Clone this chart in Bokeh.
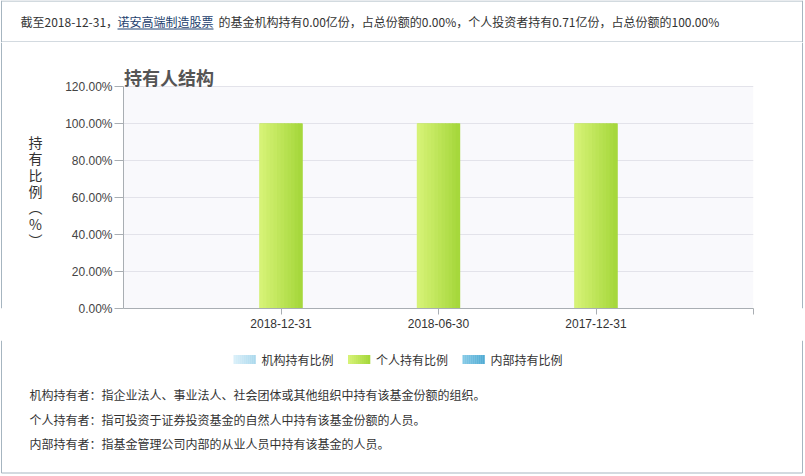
from bokeh.plotting import figure
from bokeh.models import Range1d, FixedTicker, CustomJSTickFormatter, ColumnDataSource
from bokeh.layouts import column, row
from bokeh.transform import dodge
from bokeh.core.properties import value
from bokeh.embed import file_html
from bokeh.resources import INLINE

# ---------------- data ----------------
fund_name = "诺安高端制造股票"
report_date = "2018-12-31"
categories = ["2018-12-31", "2018-06-30", "2017-12-31"]
inst_pct = [0.00, 0.00, 0.00]
indiv_pct = [100.00, 100.00, 100.00]
inner_pct = [0.00, 0.00, 0.00]
series_names = ["机构持有比例", "个人持有比例", "内部持有比例"]
# (light, dark) ends of each series' horizontal gradient
series_grad = [("#d9eff9", "#acd9ed"), ("#d6f276", "#a6d83c"), ("#84c9e6", "#52acd4")]
y_ticks = [0, 20, 40, 60, 80, 100, 120]
inst_shares = 0.00        # 亿份
inst_share_pct = 0.00     # %
indiv_shares = 0.71       # 亿份
indiv_share_pct = 100.00  # %
chart_title = "持有人结构"
y_axis_title = "持有比例（%）"
notes = [
    "机构持有者：指企业法人、事业法人、社会团体或其他组织中持有该基金份额的组织。",
    "个人持有者：指可投资于证券投资基金的自然人中持有该基金份额的人员。",
    "内部持有者：指基金管理公司内部的从业人员中持有该基金的人员。",
]

CJK = "Noto Sans CJK SC"
LAT = "Liberation Sans"
BC = "#a6b5c0"          # frame border colour
TXT = "#333333"

W, H = 804, 475
HEAD_H = 42             # header band: y 0..42
BAND_B = 340            # chart band: y 42..340
LEFT_W, RIGHT_X = 55, 789
PL, PR, PT, PB = 123, 753, 86, 308   # plot area in page pixels
n_slots = len(categories) + 1
Y_MAX = y_ticks[-1]


def hex2rgb(h):
    return tuple(int(h[i:i + 2], 16) for i in (1, 3, 5))


def ramp(c_light, c_dark, n):
    a, b = hex2rgb(c_light), hex2rgb(c_dark)
    out = []
    for k in range(n):
        t = k / (n - 1)
        out.append("#%02x%02x%02x" % tuple(int(round(u + (v - u) * t)) for u, v in zip(a, b)))
    return out


def band(x0, y0, w, h):
    """A figure whose frame fills the whole canvas; data coords == page pixels."""
    f = figure(width=w, height=h, x_range=Range1d(x0, x0 + w), y_range=Range1d(y0 + h, y0),
               x_axis_type=None, y_axis_type=None, output_backend="svg",
               toolbar_location=None, min_border=0, min_border_left=0, min_border_right=0,
               min_border_top=0, min_border_bottom=0)
    f.outline_line_color = None
    f.background_fill_color = "white"
    f.border_fill_color = "white"
    return f


# ---------------- header ----------------
head = band(0, 0, W, HEAD_H)
head1 = f"截至{report_date}，"
head3 = (f"的基金机构持有{inst_shares:.2f}亿份，占总份额的{inst_share_pct:.2f}%，"
         f"个人投资者持有{indiv_shares:.2f}亿份，占总份额的{indiv_share_pct:.2f}%")
head.text(x=[20, 218], y=[20.5, 20.5], text=[head1, head3], text_font=value(CJK),
          text_font_size=value("12px"), text_color=TXT, text_baseline="middle", text_align="left")
head.text(x=[117], y=[20.5], text=[fund_name], text_font=value(CJK),
          text_font_size=value("12px"), text_color="#1d3f6e", text_baseline="middle",
          text_align="left")
head.segment(x0=[117], y0=[28.5], x1=[213], y1=[28.5], line_color="#1d3f6e", line_width=1)
head.segment(x0=[1, 1, 1, 802], y0=[0.5, 41.5, 0, 0], x1=[802, 802, 1, 802],
             y1=[0.5, 41.5, HEAD_H, HEAD_H], line_color=BC, line_width=1)

# ---------------- left strip (y axis title, upright characters) ----------------
left = band(0, HEAD_H, LEFT_W, BAND_B - HEAD_H)
vert = {"（": "︵", "）": "︶", "(": "︵", ")": "︶"}
ytitle = "\n".join(vert.get(ch, ch) for ch in y_axis_title)
left.text(x=[35], y=[142], text=[ytitle], text_font=value(CJK), text_font_size=value("14px"),
          text_color=TXT, text_align="center", text_baseline="top", text_line_height=0.82)
left.segment(x0=[1], y0=[HEAD_H], x1=[1], y1=[BAND_B], line_color=BC, line_width=1)

# ---------------- right strip ----------------
right = band(RIGHT_X, HEAD_H, W - RIGHT_X, BAND_B - HEAD_H)
right.segment(x0=[802], y0=[HEAD_H], x1=[802], y1=[BAND_B], line_color=BC, line_width=1)

# ---------------- chart ----------------
src = ColumnDataSource(dict(
    x=list(range(1, len(categories) + 1)),
    cat=categories,
    inst=inst_pct,
    indiv=indiv_pct,
    inner=inner_pct,
))

y_top = (PB - HEAD_H) / (PB - PT) * Y_MAX      # frame reaches up to the header line
p = figure(width=RIGHT_X - LEFT_W, height=BAND_B - HEAD_H,
           x_range=Range1d(0, n_slots), y_range=Range1d(0, y_top),
           output_backend="svg", toolbar_location=None,
           min_border_left=PL - LEFT_W, min_border_right=RIGHT_X - PR,
           min_border_top=0, min_border_bottom=BAND_B - PB)
p.background_fill_color = "white"
p.border_fill_color = "white"
p.outline_line_color = None


def dx(px):
    return (px - PL) / (PR - PL) * n_slots


def dy(py):
    return (PB - py) / (PB - PT) * Y_MAX


# plot-area background (only up to the top tick)
p.quad(left=[0], right=[n_slots], bottom=[0], top=[Y_MAX], fill_color="#f9f9fc",
       line_color=None, level="image")

p.xgrid.visible = False
p.ygrid.ticker = FixedTicker(ticks=y_ticks)
p.ygrid.grid_line_color = "#e3e3ea"

p.yaxis.ticker = FixedTicker(ticks=y_ticks)
p.yaxis.bounds = (0, Y_MAX)
p.yaxis.formatter = CustomJSTickFormatter(code="return tick.toFixed(2) + '%';")
p.yaxis.axis_line_color = "#a9aeb3"
p.yaxis.major_tick_line_color = "#a9aeb3"
p.yaxis.major_tick_out = 9
p.yaxis.major_tick_in = 0
p.yaxis.minor_tick_line_color = None
p.yaxis.major_label_standoff = 2
p.yaxis.major_label_text_font = LAT
p.yaxis.major_label_text_font_size = "12px"
p.yaxis.major_label_text_color = "#444444"

p.xaxis.ticker = FixedTicker(ticks=list(range(1, n_slots + 1)))
p.xaxis.formatter = CustomJSTickFormatter(
    args=dict(labels=categories),
    code="const i = Math.round(tick) - 1; return (i >= 0 && i < labels.length) ? labels[i] : '';")
p.xaxis.axis_line_color = "#a9aeb3"
p.xaxis.major_tick_line_color = "#a9aeb3"
p.xaxis.major_tick_out = 6
p.xaxis.major_tick_in = 0
p.xaxis.minor_tick_line_color = None
p.xaxis.major_label_standoff = 4
p.xaxis.major_label_text_font = LAT
p.xaxis.major_label_text_font_size = "12px"
p.xaxis.major_label_text_color = TXT

w = 0.27
n_str = 12
sw = w / n_str
for field, centre, (cl, cd) in zip(["inst", "indiv", "inner"], [-w, 0.0, w], series_grad):
    p.vbar(x=dodge("x", centre, range=p.x_range), top=field, width=w, source=src,
           fill_color=cd, line_color=None)
    for k, col in enumerate(ramp(cl, cd, n_str)):
        off = centre - w / 2 + (k + 0.5) * sw
        p.vbar(x=dodge("x", off, range=p.x_range), top=field, width=sw * 1.25, source=src,
               fill_color=col, line_color=None)

p.text(x=[dx(123.5)], y=[dy(76)], text=[chart_title], text_font=value(CJK),
       text_font_size=value("18px"), text_font_style="bold", text_color="#555555",
       text_baseline="middle", text_align="left")

# ---------------- footer (legend + notes) ----------------
foot = band(0, BAND_B, W, H - BAND_B)
LEG_X0, LEG_STEP, LEG_Y = 233, 114.5, 359
SW_W, SW_H, N_SW = 22, 9, 11
for i, (name, (cl, cd)) in enumerate(zip(series_names, series_grad)):
    x0 = LEG_X0 + i * LEG_STEP
    cols = ramp(cl, cd, N_SW)
    step = SW_W / N_SW
    foot.quad(left=[x0 + k * step for k in range(N_SW)],
              right=[x0 + (k + 1) * step + 0.3 for k in range(N_SW)],
              top=[LEG_Y - SW_H / 2] * N_SW, bottom=[LEG_Y + SW_H / 2] * N_SW,
              fill_color=cols, line_color=None)
    foot.text(x=[x0 + SW_W + 6], y=[LEG_Y], text=[name], text_font=value(CJK),
              text_font_size=value("12px"), text_color=TXT, text_baseline="middle",
              text_align="left")

foot.text(x=[29] * len(notes), y=[394 + i * 24.5 for i in range(len(notes))], text=notes,
          text_font=value(CJK), text_font_size=value("12px"), text_color=TXT,
          text_baseline="middle", text_align="left")
foot.segment(x0=[1, 802, 1], y0=[BAND_B, BAND_B, 472.5], x1=[1, 802, 802],
             y1=[472.5, 472.5, 472.5], line_color=BC, line_width=1)

layout = column(head, row(left, p, right, spacing=0), foot, spacing=0)
open("out.html", "w").write(file_html(layout, INLINE))
